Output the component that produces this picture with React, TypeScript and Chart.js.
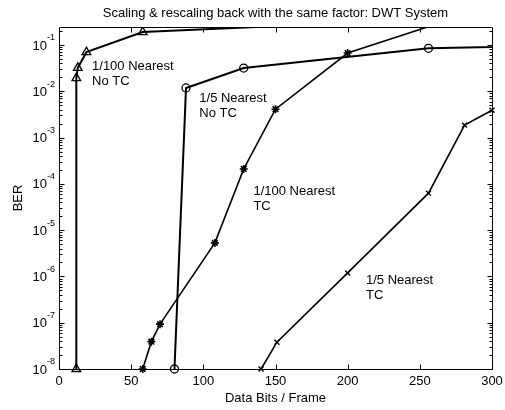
import React, { useEffect, useRef } from "react";
import { Chart, registerables } from "chart.js";
Chart.register(...registerables);

const chartTitle = "Scaling & rescaling back with the same factor: DWT System";
const xAxisTitle = "Data Bits / Frame";
const yAxisTitle = "BER";
const xTickValues = [0, 50, 100, 150, 200, 250, 300];
const yDecadeExponents = [-8, -7, -6, -5, -4, -3, -2, -1];
const xMin = 0;
const xMax = 300;
const yMin = 1e-8;
const yMax = 0.245;

const nearest100NoTcX = [12, 12, 13, 19, 58, 200];
const nearest100NoTcY = [1e-8, 0.0193, 0.032, 0.07, 0.19, 0.3];
const nearest5NoTcX = [80, 88, 128, 256, 512];
const nearest5NoTcY = [1e-8, 0.0118, 0.0318, 0.085, 0.127];
const nearest100TcX = [58, 64, 70, 108, 128, 150, 200, 300];
const nearest100TcY = [1e-8, 3.9e-8, 9.3e-8, 5.3e-6, 2.1e-4, 0.0041, 0.067, 0.7];
const nearest5TcX = [140, 151, 200, 256, 281, 300];
const nearest5TcY = [1e-8, 3.8e-8, 1.19e-6, 6.3e-5, 0.00186, 0.0039];

const labelLines = [
  ["1/100 Nearest", "No TC"],
  ["1/5 Nearest", "No TC"],
  ["1/100 Nearest", "TC"],
  ["1/5 Nearest", "TC"],
];
const labelX = [22.9, 97.2, 134.7, 212.7];
const labelY = [0.0342, 0.00705, 6.76e-5, 8.4e-7];

const FONT = '"Liberation Sans", Arial, Helvetica, sans-serif';

function pts(xs: number[], ys: number[]) {
  return xs.map((x, i) => ({ x, y: ys[i] }));
}

const overlayPlugin = {
  id: "overlay",
  afterDraw(chart: any) {
    const { ctx, chartArea: a, scales } = chart;
    const xs = scales.x;
    const ys = scales.y;
    ctx.save();
    ctx.strokeStyle = "#000";
    ctx.fillStyle = "#000";
    ctx.lineWidth = 1;
    const L = Math.round(a.left) + 0.5;
    const R = Math.round(a.right) + 0.5;
    const T = Math.round(a.top) + 0.5;
    const B = Math.round(a.bottom) + 0.5;
    ctx.beginPath();
    ctx.rect(L, T, R - L, B - T);
    ctx.stroke();

    // x ticks
    ctx.beginPath();
    xTickValues.forEach((v) => {
      const px = Math.round(xs.getPixelForValue(v)) + 0.5;
      ctx.moveTo(px, B);
      ctx.lineTo(px, B - 5);
      ctx.moveTo(px, T);
      ctx.lineTo(px, T + 5);
    });
    // y ticks
    yDecadeExponents.forEach((d) => {
      for (let k = 1; k <= 9; k++) {
        const val = k * Math.pow(10, d);
        if (val > yMax * 1.0001 || val < yMin * 0.9999) continue;
        const py = Math.round(ys.getPixelForValue(val)) + 0.5;
        const len = k === 1 ? 5 : 3;
        ctx.moveTo(L, py);
        ctx.lineTo(L + len, py);
        ctx.moveTo(R, py);
        ctx.lineTo(R - len, py);
      }
    });
    ctx.stroke();

    // x tick labels
    ctx.font = `13px ${FONT}`;
    ctx.textAlign = "center";
    ctx.textBaseline = "middle";
    xTickValues.forEach((v) => {
      const px = xs.getPixelForValue(v);
      ctx.fillText(String(v), px, a.bottom + 12);
    });

    // y tick labels with superscript
    yDecadeExponents.forEach((d) => {
      const py = ys.getPixelForValue(Math.pow(10, d));
      ctx.font = `9px ${FONT}`;
      const sup = String(d);
      const supW = ctx.measureText(sup).width;
      const right = a.left - 4;
      ctx.textAlign = "right";
      ctx.textBaseline = "middle";
      ctx.fillText(sup, right, py - 7);
      ctx.font = `13px ${FONT}`;
      ctx.fillText("10", right - supW, py + 1);
    });

    // annotations
    ctx.font = `13px ${FONT}`;
    ctx.textAlign = "left";
    ctx.textBaseline = "middle";
    labelLines.forEach((lines, i) => {
      const px = xs.getPixelForValue(labelX[i]);
      const py = ys.getPixelForValue(labelY[i]);
      lines.forEach((t, j) => ctx.fillText(t, px, py + j * 15));
    });

    // titles
    const cx = (a.left + a.right) / 2;
    ctx.textAlign = "center";
    ctx.fillText(chartTitle, cx, 13);
    ctx.fillText(xAxisTitle, cx, 398);
    ctx.save();
    ctx.translate(18, (a.top + a.bottom) / 2);
    ctx.rotate(-Math.PI / 2);
    ctx.fillText(yAxisTitle, 0, 0);
    ctx.restore();
    ctx.restore();
  },
};

export default function App() {
  const ref = useRef<HTMLCanvasElement | null>(null);
  useEffect(() => {
    if (!ref.current) return;
    const common = {
      borderColor: "#000",
      pointBorderColor: "#000",
      pointBackgroundColor: "rgba(0,0,0,0)",
      pointBorderWidth: 1.3,
      showLine: true,
      fill: false,
      tension: 0,
      clip: { left: 10, right: 10, top: 0, bottom: 10 },
    };
    const chart = new Chart(ref.current, {
      type: "scatter",
      data: {
        datasets: [
          { ...common, data: pts(nearest100NoTcX, nearest100NoTcY), borderWidth: 2, pointStyle: "triangle", pointRadius: 5 },
          { ...common, data: pts(nearest5NoTcX, nearest5NoTcY), borderWidth: 2, pointStyle: "circle", pointRadius: 4, clip: { left: 10, right: 0, top: 0, bottom: 10 } },
          { ...common, data: pts(nearest100TcX, nearest100TcY), borderWidth: 1.6, pointStyle: "star", pointRadius: 4, pointBorderWidth: 1.6 },
          { ...common, data: pts(nearest5TcX, nearest5TcY), borderWidth: 1.6, pointStyle: "crossRot", pointRadius: 3.5, pointBorderWidth: 1.4 },
        ] as any,
      },
      options: {
        responsive: false,
        animation: false,
        devicePixelRatio: 1,
        layout: { padding: { left: 59, right: 13, top: 27, bottom: 41 } },
        plugins: { legend: { display: false }, tooltip: { enabled: false }, title: { display: false } },
        scales: {
          x: { type: "linear", min: xMin, max: xMax, display: false },
          y: { type: "logarithmic", min: yMin, max: yMax, display: false },
        },
      } as any,
      plugins: [overlayPlugin],
    });
    return () => chart.destroy();
  }, []);
  return (
    <div style={{ position: "absolute", left: 0, top: 0, width: 505, height: 410, background: "#fff" }}>
      <canvas ref={ref} width={505} height={410} style={{ width: 505, height: 410, display: "block" }} />
    </div>
  );
}
